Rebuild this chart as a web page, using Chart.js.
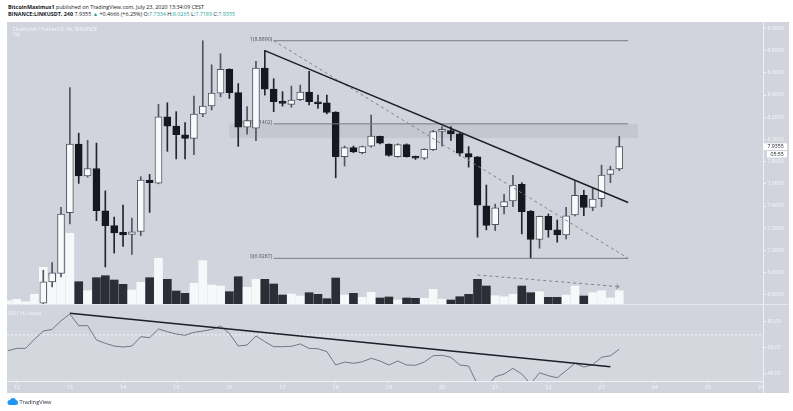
<!DOCTYPE html>
<html>
<head>
<meta charset="utf-8">
<script src="https://cdn.jsdelivr.net/npm/chart.js@4.4.1/dist/chart.umd.min.js"></script>
<style>
  body { margin: 0; width: 793px; height: 411px; background: #fff; position: relative; overflow: hidden;
         font-family: "Open Sans", sans-serif; color: #131722; }
  .abs { position: absolute; white-space: nowrap; }
  #panel { left: 7px; top: 22px; width: 782px; height: 371px; background: #d1d4dc; }
  .hdr { left: 8px; font-size: 5.4px; line-height: 6px; }
  .teal { color: #26a69a; }
  .pane-title { font-size: 5.2px; line-height: 6px; color: rgba(255,255,255,0.8); }
  #priceChart { position: absolute; left: 7px; top: 22px; }
  #rsiChart { position: absolute; left: 7px; top: 304px; }
  #sep { left: 7px; top: 304px; width: 782px; height: 1px; background: #e6e8ed; }
  #axisLine { left: 763px; top: 381px; width: 1px; height: 12px; background: #eef0f4; }
  #logo { left: 7px; top: 398px; font-size: 5.6px; line-height: 7px; color: #2a2e39; }
</style>
</head>
<body>
<div class="abs hdr" style="top:3.7px"><b>BitcoinMaximus1</b> published on TradingView.com, July 23, 2020 13:34:09 CEST</div>
<div class="abs hdr" style="top:11.3px"><b>BINANCE:LINKUSDT, 240</b> 7.9355 <span class="teal">▲</span> +0.4666 (+6.25%) O:<span class="teal">7.7334</span> H:<span class="teal">8.0265</span> L:<span class="teal">7.7189</span> C:<span class="teal">7.9355</span></div>
<div class="abs" id="panel"></div>
<canvas id="priceChart" width="782" height="282"></canvas>
<canvas id="rsiChart" width="782" height="89"></canvas>
<div class="abs" id="sep"></div>
<div class="abs" id="axisLine"></div>
<div class="abs pane-title" style="left:12.7px;top:25.7px">ChainLink / TetherUS, 4h, BINANCE</div>
<div class="abs pane-title" style="left:12.7px;top:30.7px">Vol</div>
<div class="abs pane-title" style="left:8.3px;top:309.5px">RSI (14, close)</div>
<div class="abs" id="logo">
  <svg width="11" height="7" viewBox="0 0 22 14" style="vertical-align:-1px">
    <circle cx="6" cy="9" r="5" fill="#2196f3"/><circle cx="12" cy="6" r="6" fill="#2196f3"/>
    <circle cx="17" cy="9" r="5" fill="#2196f3"/><rect x="6" y="9" width="11" height="5" fill="#2196f3"/>
  </svg> TradingView
</div>

<script>
// 4h candles, index 0 = Jul 12 00:00, first candle is Jul 11 20:00
const firstIndex = -1;
const opens = [null, null, null, null,
  6.524, 6.717, 6.792, 7.339, 7.958, 7.670, 7.738, 7.357, 7.223, 7.163,
  7.143, 7.170, 7.634, 7.605, 8.203, 8.119, 8.042, 8.009, 8.229, 8.301,
  8.417, 8.631, 8.422, 8.110, 8.101, 8.643, 8.453, 8.342, 8.315, 8.357,
  8.426, 8.339, 8.330, 8.247, 7.845, 7.926, 7.880, 7.938, 8.027, 7.958,
  7.845, 7.953, 7.845, 7.830, 7.908, 8.073, 8.080, 8.050, 7.872, 7.842,
  7.402, 7.232, 7.393, 7.446, 7.595, 7.351, 7.098, 7.306, 7.185, 7.140,
  7.319, 7.497, 7.387, 7.467, 7.685, 7.7334];
const highs = [null, null, null, null,
  6.821, 6.890, 7.387, 8.467, 8.056, 7.991, 7.967, 7.536, 7.300, 7.408,
  7.292, 7.664, 7.685, 8.315, 8.330, 8.250, 8.152, 8.390, 8.889, 8.672,
  8.771, 8.637, 8.503, 8.295, 8.703, 8.801, 8.547, 8.430, 8.480, 8.490,
  8.613, 8.400, 8.400, 8.250, 7.940, 7.940, 7.940, 8.220, 8.030, 7.960,
  7.960, 7.960, 7.850, 7.915, 8.080, 8.116, 8.116, 8.060, 7.935, 7.845,
  7.589, 7.417, 7.506, 7.676, 7.610, 7.360, 7.310, 7.328, 7.274, 7.387,
  7.631, 7.542, 7.565, 7.768, 7.759, 8.0265];
const lows = [null, null, null, null,
  6.515, 6.672, 6.760, 7.238, 7.604, 7.660, 7.268, 6.851, 6.976, 7.036,
  6.964, 7.134, 7.342, 7.600, 7.893, 7.824, 7.824, 7.863, 8.205, 8.265,
  8.384, 8.369, 7.937, 8.047, 7.988, 8.399, 8.250, 8.300, 8.290, 8.350,
  8.310, 8.280, 8.230, 7.654, 7.760, 7.880, 7.870, 7.930, 7.960, 7.850,
  7.840, 7.840, 7.820, 7.820, 7.900, 7.940, 7.990, 7.850, 7.750, 7.119,
  7.185, 7.179, 7.328, 7.395, 7.149, 6.929, 7.020, 7.119, 7.074, 7.104,
  7.310, 7.313, 7.357, 7.393, 7.610, 7.7189];
const closes = [null, null, null, null,
  6.717, 6.797, 7.328, 7.958, 7.670, 7.738, 7.357, 7.223, 7.158, 7.140,
  7.167, 7.634, 7.610, 8.203, 8.119, 8.042, 8.009, 8.229, 8.301, 8.417,
  8.631, 8.422, 8.110, 8.170, 8.643, 8.453, 8.339, 8.324, 8.354, 8.426,
  8.339, 8.320, 8.244, 7.845, 7.926, 7.887, 7.935, 8.030, 7.967, 7.855,
  7.953, 7.845, 7.830, 7.911, 8.071, 8.080, 8.050, 7.875, 7.839, 7.408,
  7.226, 7.384, 7.440, 7.589, 7.348, 7.098, 7.306, 7.185, 7.140, 7.312,
  7.497, 7.387, 7.462, 7.679, 7.729, 7.9355];
// volume, millions of LINK
const volumes = [0.33, 0.47, 0.23, 0.97,
  3.67, 2.67, 3.07, 7.07, 2.23, 1.33, 2.63, 2.83, 2.40, 1.97,
  1.40, 2.17, 2.63, 4.57, 2.47, 1.30, 1.07, 2.07, 4.33, 1.90,
  1.80, 1.23, 2.73, 1.67, 2.47, 2.47, 2.00, 0.90, 1.00, 0.80,
  1.13, 0.97, 0.53, 2.60, 0.90, 1.07, 0.67, 1.17, 0.60, 0.70,
  0.40, 0.60, 0.57, 0.57, 1.47, 0.47, 0.40, 0.73, 0.97, 2.47,
  1.80, 0.83, 0.73, 0.97, 1.80, 1.13, 1.23, 0.67, 0.67, 0.90,
  1.80, 0.80, 1.13, 1.33, 0.60, 1.33];
const rsi = [57.7, 59.5, 59.5, 66.5,
  72.9, 74.2, 80.9, 86.1, 77.1, 77.1, 66.0, 63.4, 61.3, 60.5,
  61.3, 68.5, 67.8, 74.5, 72.4, 70.6, 69.6, 71.9, 72.9, 74.2,
  76.8, 71.1, 61.3, 62.1, 69.1, 64.7, 60.8, 60.8, 61.1, 62.9,
  59.5, 59.2, 57.0, 46.6, 48.9, 47.9, 49.1, 51.8, 49.7, 46.6,
  49.7, 46.6, 46.4, 48.9, 53.8, 54.1, 52.6, 46.6, 45.8, 31.5,
  29.0, 37.5, 39.6, 44.0, 39.6, 32.0, 40.6, 38.3, 36.7, 42.2,
  47.9, 45.0, 46.8, 52.6, 53.8, 58.8];

const dayLabels = ['12', '13', '14', '15', '16', '17', '18', '19', '20', '21', '22', '23', '24', '25', '26'];
const priceTicks = [6.6, 6.8, 7.0, 7.2, 7.4, 7.6, 7.8, 8.0, 8.2, 8.4, 8.6, 8.8, 9.0];
const rsiTicks = [40, 60, 80];

// drawings (candle index, price)
const trendX = [28, 69], trendY = [8.80, 7.431];
const fibX = [29, 69];
const fibPrices = [8.8890, 8.1402, 6.9287];
const fibNames = ['1', '0.618', '0'];
const bandX = [24, 70.1], bandY = [8.012, 8.1402];
const volTrendX = [52, 68], volTrendY = [2.9, 1.73];
const rsiTrendX = [6, 67], rsiTrendY = [86.7, 45.3];
const countdown = '05:55';

const X_MIN = -1.095, X_MAX = 84.22;
const P_MIN = 6.5171, P_MAX = 9.0577;
const R_MIN = 34.2, R_MAX = 93.1;
const VOL_MAX = 28.2;

const UP_FILL = '#f8f9fb', UP_LINE = '#50545f';
const DOWN_FILL = '#151820', DOWN_LINE = '#22262f';
const TEXT_LIGHT = '#f5f7fa', AXIS_LINE = '#eef0f4';

Chart.defaults.font.family = '"Open Sans", sans-serif';

const candles = [];
opens.forEach((o, k) => {
  if (o === null) return;
  candles.push({ x: firstIndex + k, o: o, h: highs[k], l: lows[k], c: closes[k] });
});
const up = c => c.c >= c.o;
const lastClose = closes[closes.length - 1];

const seg = (xs, ys) => xs.map((x, k) => ({ x: x, y: ys[k] }));

const fibSets = fibPrices.map(p => ({
  type: 'line', data: seg(fibX, [p, p]), borderColor: '#787b86', borderWidth: 1,
  pointRadius: 0, order: 0
}));

const drawings = {
  id: 'drawings',
  beforeDatasetsDraw(chart) {
    const { ctx, chartArea: a, scales: { x, y } } = chart;
    ctx.save();
    ctx.beginPath();
    ctx.rect(a.left, a.top, a.width, a.height);
    ctx.clip();
    const x0 = x.getPixelForValue(bandX[0]), x1 = x.getPixelForValue(bandX[1]);
    const y0 = y.getPixelForValue(bandY[1]), y1 = y.getPixelForValue(bandY[0]);
    ctx.fillStyle = 'rgba(120,123,134,0.14)';
    ctx.fillRect(x0, y0, x1 - x0, y1 - y0);
    // fib level labels
    ctx.font = '5.2px "Open Sans"';
    ctx.fillStyle = '#4a4e59';
    ctx.textAlign = 'right';
    ctx.textBaseline = 'middle';
    fibPrices.forEach((p, k) => {
      ctx.fillText(fibNames[k] + '(' + p.toFixed(4) + ')', x.getPixelForValue(fibX[0]) - 1.5, y.getPixelForValue(p) - 1.5);
    });
    ctx.restore();
  },
  afterDatasetsDraw(chart) {
    const { ctx, scales: { x, yv } } = chart;
    // arrow head on the volume trend line
    const ex = x.getPixelForValue(volTrendX[1]), ey = yv.getPixelForValue(volTrendY[1]);
    const sx = x.getPixelForValue(volTrendX[0]), sy = yv.getPixelForValue(volTrendY[0]);
    const ang = Math.atan2(ey - sy, ex - sx);
    ctx.save();
    ctx.strokeStyle = '#80838d';
    ctx.lineWidth = 1;
    ctx.beginPath();
    ctx.moveTo(ex - 3.5 * Math.cos(ang - 0.6), ey - 3.5 * Math.sin(ang - 0.6));
    ctx.lineTo(ex, ey);
    ctx.lineTo(ex - 3.5 * Math.cos(ang + 0.6), ey - 3.5 * Math.sin(ang + 0.6));
    ctx.stroke();
    ctx.restore();
  },
  afterDraw(chart) {
    const { ctx, chartArea: a, scales: { y } } = chart;
    const yp = y.getPixelForValue(lastClose);
    ctx.save();
    ctx.fillStyle = '#ffffff';
    ctx.fillRect(a.right + 0.5, yp - 3.2, 23.5, 6.6);
    ctx.fillRect(a.right + 4, yp + 4.6, 20, 6.4);
    ctx.fillStyle = '#131722';
    ctx.font = '5.2px "Open Sans"';
    ctx.textBaseline = 'middle';
    ctx.fillText(lastClose.toFixed(4), a.right + 4.5, yp + 0.2);
    ctx.fillText(countdown, a.right + 7.5, yp + 7.9);
    ctx.restore();
  }
};

new Chart(document.getElementById('priceChart'), {
  type: 'bar',
  data: {
    datasets: [
      { type: 'line', data: seg(trendX, trendY), borderColor: '#1b1e26', borderWidth: 1.5, pointRadius: 0, order: 0 },
      { type: 'line', data: seg([fibX[0], fibX[1]], [fibPrices[0], fibPrices[2]]), borderColor: '#80838d',
        borderWidth: 1, borderDash: [3, 3], pointRadius: 0, order: 0 },
      ...fibSets,
      { type: 'line', data: seg(volTrendX, volTrendY), yAxisID: 'yv', borderColor: '#80838d',
        borderWidth: 1, borderDash: [3, 3], pointRadius: 0, order: 0 },
      {
        label: 'body', data: candles.map(c => ({ x: c.x, y: [c.o, c.c] })),
        backgroundColor: candles.map(c => up(c) ? UP_FILL : DOWN_FILL),
        borderColor: candles.map(c => up(c) ? UP_LINE : DOWN_FILL),
        borderWidth: 1, borderSkipped: false, barThickness: 7, minBarLength: 2, grouped: false, order: 1
      },
      {
        label: 'wick', data: candles.map(c => ({ x: c.x, y: [c.l, c.h] })),
        backgroundColor: candles.map(c => up(c) ? UP_LINE : DOWN_LINE),
        barThickness: 1, grouped: false, order: 2
      },
      {
        label: 'Vol', yAxisID: 'yv', data: volumes.map((v, k) => ({ x: firstIndex + k, y: v })),
        backgroundColor: volumes.map((v, k) => (closes[k] === null || closes[k] >= opens[k]) ? 'rgba(250,251,252,0.92)' : '#2b2e36'),
        barThickness: 8, grouped: false, order: 3
      }
    ]
  },
  options: {
    responsive: false,
    animation: false,
    events: [],
    layout: { padding: 0 },
    plugins: { legend: { display: false }, tooltip: { enabled: false } },
    scales: {
      x: { type: 'linear', display: false, offset: false, grid: { offset: false }, min: X_MIN, max: X_MAX },
      y: {
        type: 'linear', position: 'right', min: P_MIN, max: P_MAX,
        afterBuildTicks: s => { s.ticks = priceTicks.map(v => ({ value: v })); },
        afterFit: s => { s.width = 26; s.paddingTop = 0; s.paddingBottom = 0; },
        grid: { drawOnChartArea: false, color: AXIS_LINE, tickLength: 3 },
        border: { color: AXIS_LINE },
        ticks: { color: TEXT_LIGHT, font: { size: 5.2 }, padding: 1.5, callback: v => v.toFixed(4) }
      },
      yv: { type: 'linear', display: false, min: 0, max: VOL_MAX }
    }
  },
  plugins: [drawings]
});

const rsiBand = {
  id: 'rsiBand',
  beforeDatasetsDraw(chart) {
    const { ctx, chartArea: a, scales: { y } } = chart;
    const top = y.getPixelForValue(70);
    ctx.save();
    ctx.fillStyle = 'rgba(255,255,255,0.09)';
    ctx.fillRect(a.left, top, a.width, a.bottom - top);
    ctx.restore();
  }
};

new Chart(document.getElementById('rsiChart'), {
  type: 'line',
  data: {
    datasets: [
      { data: seg(rsiTrendX, rsiTrendY), borderColor: '#1b1e26', borderWidth: 1.6, pointRadius: 0, order: 0 },
      { data: rsi.map((v, k) => ({ x: firstIndex + k, y: v })), borderColor: '#676b75', borderWidth: 0.9,
        pointRadius: 0, tension: 0, order: 1 },
      { data: seg([X_MIN, X_MAX], [70, 70]), borderColor: 'rgba(255,255,255,0.75)', borderWidth: 1,
        borderDash: [2, 2], pointRadius: 0, order: 2 }
    ]
  },
  options: {
    responsive: false,
    animation: false,
    events: [],
    layout: { padding: { top: 1 } },
    plugins: { legend: { display: false }, tooltip: { enabled: false } },
    scales: {
      x: {
        type: 'linear', position: 'bottom', min: X_MIN, max: X_MAX,
        afterBuildTicks: s => { s.ticks = dayLabels.map((d, k) => ({ value: k * 6 })); },
        afterFit: s => { s.height = 12; s.paddingLeft = 0; s.paddingRight = 0; },
        grid: { drawOnChartArea: false, color: AXIS_LINE, tickLength: 2 },
        border: { color: AXIS_LINE },
        ticks: { color: TEXT_LIGHT, font: { size: 5.6 }, padding: 1.5, maxRotation: 0, autoSkip: false,
                 callback: (v, k) => dayLabels[k] }
      },
      y: {
        type: 'linear', position: 'right', min: R_MIN, max: R_MAX,
        afterBuildTicks: s => { s.ticks = rsiTicks.map(v => ({ value: v })); },
        afterFit: s => { s.width = 26; s.paddingTop = 0; s.paddingBottom = 0; },
        grid: { drawOnChartArea: false, color: AXIS_LINE, tickLength: 3 },
        border: { color: AXIS_LINE },
        ticks: { color: TEXT_LIGHT, font: { size: 5.2 }, padding: 1.5, callback: v => v.toFixed(2) }
      }
    }
  },
  plugins: [rsiBand]
});
</script>
</body>
</html>
